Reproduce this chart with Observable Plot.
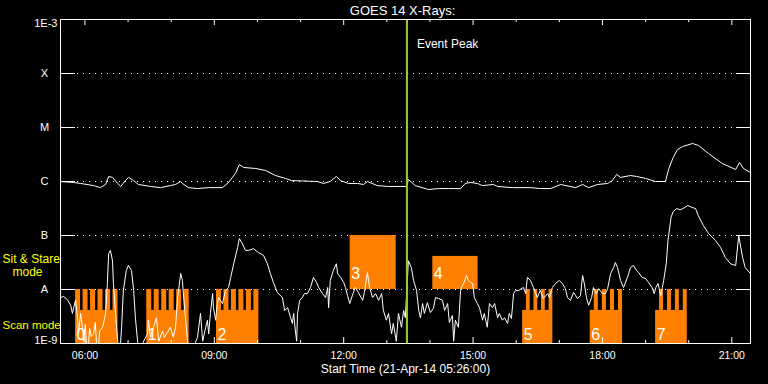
<!DOCTYPE html>
<html><head><meta charset="utf-8">
<script src="https://cdn.jsdelivr.net/npm/d3@7"></script>
<script src="https://cdn.jsdelivr.net/npm/@observablehq/plot@0.6"></script>
<style>
html,body{margin:0;padding:0;background:#000;}
#chart{width:768px;height:384px;}
</style></head><body><div id="chart"></div>
<script>
// ---- data (time in decimal hours UT on 21-Apr-2014, flux in W/m^2) ----
const title = "GOES 14 X-Rays:";
const xTitle = "Start Time (21-Apr-14 05:26:00)";
const startHour = 5 + 26/60, endHour = 21 + 26/60;
const eventPeakHour = 13 + 28/60;
const eventLabel = "Event Peak";

const levels = [1e-3, 1e-4, 1e-5, 1e-6, 1e-7, 1e-8, 1e-9];
const levelLabels = ["1E-3", "X", "M", "C", "B", "A", "1E-9"];
const gridLevels = [1e-4, 1e-5, 1e-6, 1e-7, 1e-8];
const stareModeLabel = "Sit & Stare\n\u00a0\u00a0\u00a0mode";
const scanModeLabel = "Scan mode";

// long channel (1-8 A)
const longChannel = [[5.43,1.0e-6],[5.73,9.6e-7],[5.90,9.2e-7],[6.20,8.4e-7],[6.36,7.7e-7],[6.48,8.8e-7],[6.55,1.24e-6],[6.64,1.19e-6],[6.76,9.2e-7],[6.83,8.1e-7],[6.94,1.04e-6],[7.01,1.19e-6],[7.13,1.04e-6],[7.24,8.8e-7],[7.52,8.1e-7],[7.75,7.7e-7],[7.98,8.4e-7],[8.10,8.8e-7],[8.22,1.0e-6],[8.26,9.2e-7],[8.40,7.7e-7],[8.61,7.4e-7],[8.87,7.7e-7],[9.19,7.7e-7],[9.33,9.6e-7],[9.49,1.41e-6],[9.58,2.06e-6],[9.68,1.82e-6],[9.96,1.74e-6],[10.19,1.6e-6],[10.42,1.29e-6],[10.65,1.14e-6],[10.79,1.04e-6],[11.39,1.0e-6],[11.53,9.2e-7],[11.69,1.0e-6],[11.83,1.24e-6],[11.93,1.04e-6],[12.11,9.2e-7],[12.32,9.2e-7],[12.46,8.8e-7],[12.55,1.0e-6],[12.78,8.4e-7],[13.02,8.1e-7],[13.46,8.1e-7],[13.50,1.09e-6],[13.66,8.4e-7],[13.97,7.1e-7],[14.20,7.4e-7],[14.43,7.4e-7],[14.71,7.4e-7],[14.82,9.2e-7],[14.94,9.6e-7],[15.10,9.2e-7],[15.22,8.4e-7],[15.47,8.8e-7],[15.57,8.1e-7],[15.91,7.7e-7],[16.33,7.7e-7],[16.56,7.4e-7],[16.80,7.4e-7],[17.03,8.8e-7],[17.38,7.7e-7],[17.54,8.8e-7],[17.68,7.7e-7],[17.89,8.8e-7],[18.12,9.2e-7],[18.23,1.04e-6],[18.33,1.35e-6],[18.42,1.19e-6],[18.65,1.29e-6],[18.79,1.24e-6],[19.00,1.14e-6],[19.23,1.0e-6],[19.46,1.0e-6],[19.54,1.74e-6],[19.64,2.78e-6],[19.74,3.91e-6],[19.86,4.45e-6],[20.09,5.05e-6],[20.23,4.64e-6],[20.46,3.3e-6],[20.78,2.15e-6],[21.09,1.67e-6],[21.18,2.25e-6],[21.27,1.74e-6],[21.43,1.47e-6]];

// short channel (0.5-4 A); values below 1E-9 fall off the bottom
const shortChannel = [[5.43,7.1e-9],[5.51,7.4e-9],[5.59,6.5e-9],[5.67,5.1e-9],[5.71,3.6e-9],[5.74,4.6e-9],[5.78,6.3e-9],[5.83,3.0e-9],[5.85,1.5e-9],[5.90,3.6e-9],[5.94,2.0e-9],[5.97,1.1e-9],[6.01,2.3e-9],[6.05,5e-10],[6.11,1.9e-9],[6.15,1.35e-9],[6.20,1.5e-9],[6.24,2.45e-9],[6.29,5e-10],[6.34,1.7e-9],[6.41,2.0e-9],[6.48,3.6e-9],[6.52,1.29e-8],[6.55,4.6e-8],[6.59,5.3e-8],[6.64,3.4e-8],[6.66,1.29e-8],[6.71,3.6e-9],[6.76,1.1e-9],[6.80,5e-10],[6.85,2.0e-9],[6.89,9.6e-9],[6.96,2.25e-8],[7.01,2.8e-8],[7.08,2.25e-8],[7.13,9.6e-9],[7.17,3.0e-9],[7.22,1.1e-9],[7.29,5e-10],[7.36,1.1e-9],[7.45,1.5e-9],[7.47,2.7e-9],[7.52,1.3e-9],[7.59,2.0e-9],[7.66,3.0e-9],[7.71,1.1e-9],[7.80,1.7e-9],[7.84,1.3e-9],[7.91,1.6e-9],[7.98,2.0e-9],[8.05,1.3e-9],[8.10,2.0e-9],[8.15,7.1e-9],[8.22,1.98e-8],[8.26,1.47e-8],[8.29,7.1e-9],[8.33,3.0e-9],[8.38,1.1e-9],[8.40,5e-10],[8.56,1.04e-9],[8.61,1.3e-9],[8.68,3.6e-9],[8.73,1.1e-9],[8.80,2.0e-9],[8.84,2.7e-9],[8.87,1.5e-9],[8.91,3.6e-9],[8.96,8.4e-9],[8.98,4.6e-9],[9.03,2.7e-9],[9.07,5.5e-9],[9.10,7.1e-9],[9.19,5.5e-9],[9.26,9.6e-9],[9.33,1.09e-8],[9.38,1.67e-8],[9.45,3.0e-8],[9.54,6.0e-8],[9.58,8.8e-8],[9.65,7.1e-8],[9.72,5.3e-8],[9.79,5.3e-8],[9.91,5.7e-8],[10.02,4.84e-8],[10.14,4.3e-8],[10.23,3.0e-8],[10.30,1.98e-8],[10.37,1.35e-8],[10.46,8.8e-9],[10.58,7.1e-9],[10.63,4.1e-9],[10.70,4.6e-9],[10.77,3.0e-9],[10.81,2.35e-9],[10.84,3.6e-9],[10.88,1.7e-9],[10.91,1.1e-9],[10.93,3.6e-9],[10.98,6.3e-9],[11.04,7.1e-9],[11.09,8.4e-9],[11.16,8.4e-9],[11.23,1.09e-8],[11.30,1.67e-8],[11.37,1.35e-8],[11.42,1.09e-8],[11.51,8.4e-9],[11.58,7.1e-9],[11.63,1.09e-8],[11.65,4.6e-9],[11.69,1.47e-8],[11.76,2.25e-8],[11.83,3.0e-8],[11.86,1.98e-8],[11.93,1.67e-8],[12.00,1.35e-8],[12.04,1.09e-8],[12.09,7.7e-9],[12.14,5.5e-9],[12.20,7.7e-9],[12.27,1.09e-8],[12.34,8.8e-9],[12.44,6.3e-9],[12.48,8.8e-9],[12.55,2.06e-8],[12.60,1.09e-8],[12.67,7.1e-9],[12.74,8.4e-9],[12.81,6.3e-9],[12.88,8.4e-9],[12.92,4.1e-9],[12.99,2.7e-9],[13.04,3.6e-9],[13.11,1.5e-9],[13.15,2.35e-9],[13.22,1.1e-9],[13.27,3.6e-9],[13.34,2.0e-9],[13.39,4.1e-9],[13.43,3.0e-9],[13.50,3.4e-8],[13.57,2.55e-8],[13.62,1.47e-8],[13.69,9.6e-9],[13.74,4.1e-9],[13.78,3.0e-9],[13.83,5.5e-9],[13.87,3.6e-9],[13.94,5.7e-9],[14.01,3.75e-9],[14.08,4.45e-9],[14.13,7.1e-9],[14.20,6.8e-9],[14.29,6.3e-9],[14.34,4.1e-9],[14.41,5.5e-9],[14.45,2.45e-9],[14.52,3.3e-9],[14.55,1.1e-9],[14.59,2.7e-9],[14.66,2.0e-9],[14.71,9.6e-9],[14.73,1.09e-8],[14.78,1.29e-8],[14.85,1.82e-8],[14.89,1.47e-8],[14.94,1.35e-8],[14.99,1.29e-8],[15.03,7.1e-9],[15.10,5.5e-9],[15.15,4.6e-9],[15.22,2.7e-9],[15.26,3.6e-9],[15.33,2.0e-9],[15.38,5.5e-9],[15.45,4.6e-9],[15.50,5.5e-9],[15.57,3.0e-9],[15.61,3.6e-9],[15.68,2.7e-9],[15.73,3.0e-9],[15.80,2.35e-9],[15.84,3.6e-9],[15.89,2.9e-9],[15.94,8.4e-9],[15.99,9.6e-9],[16.06,9.6e-9],[16.12,1.04e-8],[16.17,1.09e-8],[16.22,8.4e-9],[16.26,1.67e-8],[16.33,1.47e-8],[16.40,1.09e-8],[16.49,7.1e-9],[16.56,9.6e-9],[16.63,6.8e-9],[16.73,8.4e-9],[16.77,7.1e-9],[16.84,1.09e-8],[16.91,1.29e-8],[17.00,1.47e-8],[17.07,1.29e-8],[17.14,1.04e-8],[17.19,7.1e-9],[17.26,6.3e-9],[17.33,8.8e-9],[17.38,7.7e-9],[17.42,6.8e-9],[17.49,7.7e-9],[17.54,1.82e-8],[17.58,1.29e-8],[17.63,7.1e-9],[17.68,5.1e-9],[17.75,7.1e-9],[17.79,1.09e-8],[17.86,8.4e-9],[17.91,1.04e-8],[18.00,8.4e-9],[18.07,8.4e-9],[18.12,1.04e-8],[18.19,1.98e-8],[18.26,2.55e-8],[18.30,3.16e-8],[18.35,2.55e-8],[18.42,1.47e-8],[18.49,1.09e-8],[18.58,1.67e-8],[18.65,2.55e-8],[18.72,2.78e-8],[18.79,2.25e-8],[18.84,2.06e-8],[18.92,1.67e-8],[19.00,1.6e-8],[19.07,1.35e-8],[19.15,1.09e-8],[19.20,8.4e-9],[19.24,1.09e-8],[19.29,1.29e-8],[19.35,7.7e-9],[19.39,1.09e-8],[19.42,1.47e-8],[19.48,3.0e-8],[19.52,8.1e-8],[19.59,2.15e-7],[19.64,2.78e-7],[19.72,3.16e-7],[19.80,3.0e-7],[19.87,3.16e-7],[19.98,3.6e-7],[20.08,3.3e-7],[20.16,3.16e-7],[20.22,2.35e-7],[20.34,1.53e-7],[20.46,1.09e-7],[20.62,8.1e-8],[20.74,6.0e-8],[20.85,3.9e-8],[20.97,3.0e-8],[21.09,2.78e-8],[21.16,1.0e-7],[21.25,3.9e-8],[21.31,2.55e-8],[21.43,1.98e-8]];

// observing blocks
const scanLabels = ["0", "1", "2", "5", "6", "7"];
const scanStart = ["05:47", "07:26", "09:03", "16:09", "17:43", "19:14"];
const scanEnd   = ["06:46", "08:25", "10:02", "16:51", "18:28", "19:58"];
const scanTeeth = [6, 6, 6, 4, 4, 4];
const scanBase = 4.1e-9, scanTop = 1e-8, scanBottom = 1e-9;

const stareLabels = ["3", "4"];
const stareStart = ["12:09", "14:04"];
const stareEnd   = ["13:13", "15:07"];
const stareTop   = [1e-7, 4.1e-8];
const stareBottom = 1e-8;

const hourTicks = d3.range(6, 22);
const majorHours = [6, 9, 12, 15, 18, 21];

// ---- build ----
const base = Date.UTC(2014, 3, 21);
const t = h => new Date(base + h * 3600e3);
const hm = s => { const [H, M] = s.split(":").map(Number); return t(H + M / 60); };
const fmt = d3.utcFormat("%H:%M");

const longData = longChannel.map(([h, f]) => ({time: t(h), flux: f}));
const shortData = shortChannel.map(([h, f]) => ({time: t(h), flux: f}));

const scans = scanLabels.map((l, i) => ({label: l, x1: hm(scanStart[i]), x2: hm(scanEnd[i]), n: scanTeeth[i]}));
const teeth = scans.flatMap(b => {
  const W = b.x2 - b.x1, out = [];
  if (b.n === 6) {
    const w = W / 8.5;
    for (let k = 0; k < 6; k++) out.push({x1: new Date(+b.x1 + k * 1.5 * w), x2: new Date(+b.x1 + k * 1.5 * w + w)});
  } else {
    const u = W / (2 * b.n);
    for (let k = 0; k < b.n; k++) out.push({x1: new Date(+b.x1 + (2 * k + 1) * u), x2: new Date(+b.x1 + (2 * k + 2) * u)});
  }
  return out;
});
const stares = stareLabels.map((l, i) => ({label: l, x1: hm(stareStart[i]), x2: hm(stareEnd[i]), top: stareTop[i]}));

const minor = hourTicks.filter(h => !majorHours.includes(h)).map(t);
const major = majorHours.map(t);
const orange = "#ff8000";
const font = "Liberation Sans, Arial, sans-serif";

const chart = Plot.plot({
  width: 768, height: 384,
  marginLeft: 60, marginRight: 18, marginTop: 19, marginBottom: 41,
  style: {background: "#000", color: "#fff", fontFamily: font, fontSize: "11px"},
  x: {type: "utc", domain: [t(startHour), t(endHour)], axis: null},
  y: {type: "log", domain: [1e-9, 1e-3], axis: null},
  marks: [
    // dotted grid at class boundaries
    Plot.tickY(gridLevels, {y: d => d, stroke: "#fff", strokeDasharray: "1,5", insetLeft: 17, insetRight: 17}),
    // observing blocks
    Plot.rect(scans, {x1: "x1", x2: "x2", y1: scanBottom, y2: scanBase, fill: orange}),
    Plot.rect(teeth, {x1: "x1", x2: "x2", y1: scanBase, y2: scanTop, fill: orange}),
    Plot.rect(stares, {x1: "x1", x2: "x2", y1: stareBottom, y2: "top", fill: orange}),
    // curves
    Plot.line(longData, {x: "time", y: "flux", stroke: "#fff", strokeWidth: 1, clip: true}),
    Plot.line(shortData, {x: "time", y: "flux", stroke: "#fff", strokeWidth: 1, clip: true}),
    // block numbers
    Plot.text(scans, {x: "x1", y: scanBottom, text: "label", textAnchor: "start", lineAnchor: "bottom", dx: 1, dy: -4, fontSize: 16, fill: "#fff"}),
    Plot.text(stares, {x: "x1", y: stareBottom, text: "label", textAnchor: "start", lineAnchor: "bottom", dx: 1, dy: -11, fontSize: 16, fill: "#fff"}),
    // event peak
    Plot.ruleX([t(eventPeakHour)], {stroke: "#9acd32", strokeWidth: 2}),
    Plot.text([eventLabel], {x: t(eventPeakHour), frameAnchor: "top", textAnchor: "start", lineAnchor: "bottom", dx: 10, dy: 28, fontSize: 12, fill: "#fff"}),
    // y ticks left / right
    Plot.tickY(levels, {y: d => d, stroke: "#fff", insetRight: 675}),
    Plot.tickY(levels, {y: d => d, stroke: "#fff", insetLeft: 676}),
    // x ticks top / bottom
    Plot.tickX(major, {x: d => d, stroke: "#fff", insetBottom: 318}),
    Plot.tickX(minor, {x: d => d, stroke: "#fff", insetBottom: 321}),
    Plot.tickX(major, {x: d => d, stroke: "#fff", insetTop: 318}),
    Plot.tickX(minor, {x: d => d, stroke: "#fff", insetTop: 321}),
    // y labels
    Plot.text(levels.slice(1, 6), {y: d => d, text: (d, i) => levelLabels[i + 1], frameAnchor: "left", textAnchor: "middle", dx: -16, fontSize: 11, fill: "#fff"}),
    Plot.text([levels[0]], {y: d => d, text: [levelLabels[0]], frameAnchor: "left", textAnchor: "end", lineAnchor: "top", dx: -3, fontSize: 11, fill: "#fff"}),
    Plot.text([levels[6]], {y: d => d, text: [levelLabels[6]], frameAnchor: "left", textAnchor: "end", lineAnchor: "bottom", dx: -3, fontSize: 11, fill: "#fff"}),
    // mode labels
    Plot.text([1e-8], {y: d => d, text: [stareModeLabel], frameAnchor: "left", textAnchor: "start", lineAnchor: "top", lineHeight: 1.05, dx: -58, dy: -35, fontSize: 12, fill: "#ffff00"}),
    Plot.text([1e-9], {y: d => d, text: [scanModeLabel], frameAnchor: "left", textAnchor: "start", lineAnchor: "bottom", dx: -58, dy: -15, fontSize: 11.5, fill: "#ffff00"}),
    // x tick labels
    Plot.text(major, {x: d => d, text: d => fmt(d), frameAnchor: "bottom", lineAnchor: "top", dy: 8.5, fontSize: 10.5, fill: "#fff"}),
    // titles
    Plot.text([xTitle], {frameAnchor: "bottom", lineAnchor: "bottom", dy: 29, fontSize: 12, fill: "#fff"}),
    Plot.text([title], {frameAnchor: "top", lineAnchor: "bottom", dy: -5, dx: -3, fontSize: 13, fill: "#fff"}),
    Plot.frame({stroke: "#fff"})
  ]
});
document.getElementById("chart").appendChild(chart);
</script></body></html>
